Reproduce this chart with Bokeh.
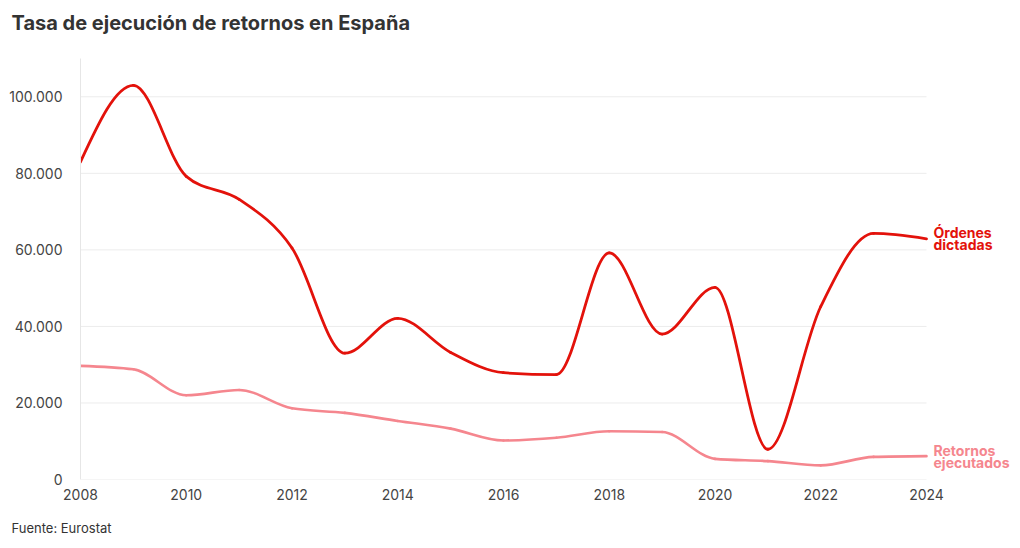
from bokeh.plotting import figure
from bokeh.models import (ColumnDataSource, Range1d, FixedTicker, CustomJSTickFormatter,
                          Title)
from bokeh.core.properties import value
from bokeh.embed import file_html
from bokeh.resources import INLINE

years = [2008, 2009, 2010, 2011, 2012, 2013, 2014, 2015, 2016,
         2017, 2018, 2019, 2020, 2021, 2022, 2023, 2024]
ordenes = [83000, 103000, 79200, 73200, 60500, 33000, 42100, 33200, 27900,
           27400, 59200, 38000, 50200, 7900, 45200, 64300, 62900]
retornos = [29700, 28800, 22000, 23400, 18600, 17400, 15300, 13300, 10200,
            10900, 12600, 12400, 5400, 4800, 3700, 5900, 6100]
series_names = [["Órdenes", "dictadas"], ["Retornos", "ejecutados"]]
series_colors = ["#e3120b", "#f5868e"]
x_ticks = [2008, 2010, 2012, 2014, 2016, 2018, 2020, 2022, 2024]
y_ticks = [0, 20000, 40000, 60000, 80000, 100000]

FONT = "Inter"


def monotone_beziers(xs, ys):
    """Bezier control points of a monotone-X curve through the data points."""
    n = len(xs)
    def sgn(v):
        return -1 if v < 0 else 1
    t = [0.0] * n
    for i in range(1, n - 1):
        h0 = xs[i] - xs[i - 1]
        h1 = xs[i + 1] - xs[i]
        s0 = (ys[i] - ys[i - 1]) / h0
        s1 = (ys[i + 1] - ys[i]) / h1
        pp = (s0 * h1 + s1 * h0) / (h0 + h1)
        t[i] = (sgn(s0) + sgn(s1)) * min(abs(s0), abs(s1), 0.5 * abs(pp))
    h = xs[1] - xs[0]
    t[0] = (3 * (ys[1] - ys[0]) / h - t[1]) / 2
    h = xs[-1] - xs[-2]
    t[-1] = (3 * (ys[-1] - ys[-2]) / h - t[-2]) / 2
    d = dict(x0=[], y0=[], x1=[], y1=[], cx0=[], cy0=[], cx1=[], cy1=[])
    for i in range(n - 1):
        dx = (xs[i + 1] - xs[i]) / 3
        d["x0"].append(xs[i]); d["y0"].append(ys[i])
        d["x1"].append(xs[i + 1]); d["y1"].append(ys[i + 1])
        d["cx0"].append(xs[i] + dx); d["cy0"].append(ys[i] + dx * t[i])
        d["cx1"].append(xs[i + 1] - dx); d["cy1"].append(ys[i + 1] - dx * t[i + 1])
    return d


# frame spans 80..1020 px; the plotted years end at 926 px, leaving room for labels
PLOT_W = 846
x_end = years[-1] + (years[-1] - years[0]) * 94 / PLOT_W

p = figure(width=1020, height=548, output_backend="svg", toolbar_location=None,
           x_range=Range1d(years[0], x_end), y_range=Range1d(0, 110000),
           min_border_left=80, min_border_right=0, min_border_top=58,
           min_border_bottom=69)
p.outline_line_color = None
p.background_fill_color = "white"
p.border_fill_color = "white"

# spacer between frame and title (closest to the frame)
p.add_layout(Title(text=" ", text_font_size="1px", standoff=19), "above")
title = Title(text="Tasa de ejecución de retornos en España", align="left",
              vertical_align="top",
              text_font=FONT, text_font_size="20px", text_font_style="bold",
              text_color="#333333", offset=-69, standoff=0)
p.add_layout(title, "above")

# axes
p.xaxis.ticker = FixedTicker(ticks=x_ticks)
p.yaxis.ticker = FixedTicker(ticks=y_ticks)
p.yaxis.formatter = CustomJSTickFormatter(
    code='return tick.toString().replace(/\\B(?=(\\d{3})+(?!\\d))/g, ".");')
for ax in (p.xaxis, p.yaxis):
    ax.major_tick_line_color = None
    ax.minor_tick_line_color = None
    ax.major_label_text_font = FONT
    ax.major_label_text_font_size = "14px"
    ax.major_label_text_color = "#444444"
p.xaxis.axis_line_color = None
p.yaxis.axis_line_color = "#e6e6e6"
p.xaxis.major_label_standoff = 3
p.yaxis.major_label_standoff = 12

p.add_layout(Title(text=" ", text_font_size="1px", standoff=12), "below")
src = Title(text="Fuente: Eurostat", align="left",
            text_font=FONT, text_font_size="13px", text_font_style="normal",
            text_color="#333333", offset=-69, standoff=0)
p.add_layout(src, "below")

p.xgrid.grid_line_color = None
p.ygrid.grid_line_color = None

# horizontal grid lines limited to the years span
p.segment(x0=[years[0]] * len(y_ticks), x1=[years[-1]] * len(y_ticks),
          y0=y_ticks, y1=y_ticks, line_color="#ececec", line_width=1)

for vals, color, width, names in [(retornos, series_colors[1], 2.6, series_names[1]),
                                  (ordenes, series_colors[0], 2.8, series_names[0])]:
    s = ColumnDataSource(monotone_beziers(years, vals))
    p.bezier(x0="x0", y0="y0", x1="x1", y1="y1", cx0="cx0", cy0="cy0",
             cx1="cx1", cy1="cy1", source=s, line_color=color, line_width=width,
             line_cap="round")
    p.text(x=[years[-1]] * len(names), y=[vals[-1]] * len(names), text=names,
           x_offset=7, y_offset=[-6 + 12 * k for k in range(len(names))],
           text_font=value(FONT), text_font_size="14px", text_font_style="bold",
           text_color=color, text_baseline="middle", text_align="left")

open("out.html", "w").write(file_html(p, INLINE))
